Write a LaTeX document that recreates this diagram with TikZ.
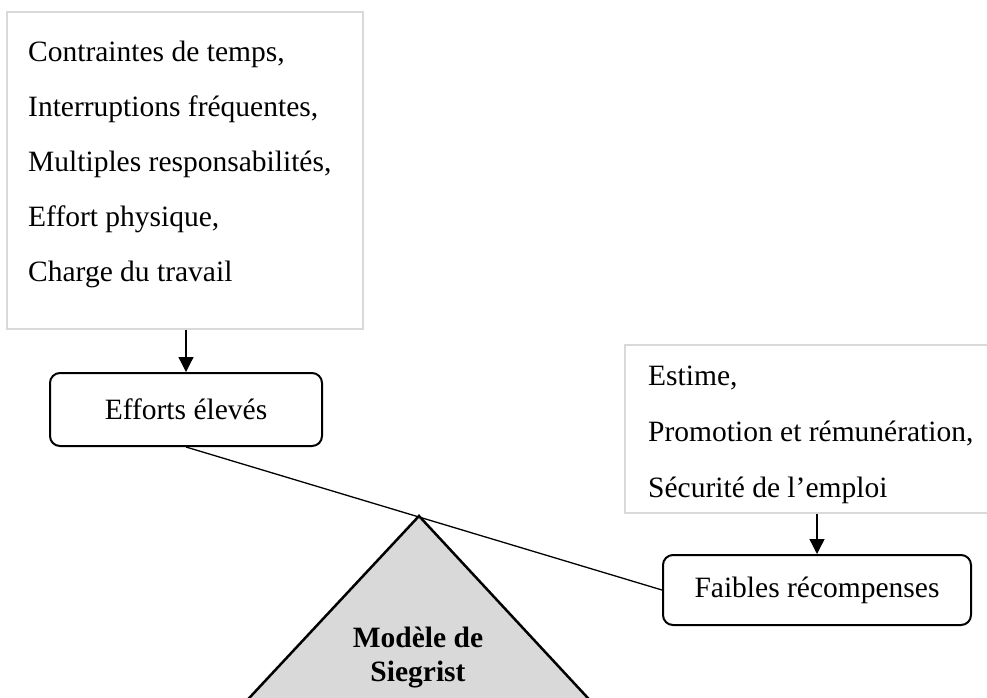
\documentclass[tikz,border=0pt]{standalone}
\usepackage{fontspec}
\setmainfont{Liberation Serif}
\usetikzlibrary{arrows.meta}
\definecolor{boxgray}{HTML}{D9D9D9}
\definecolor{trifill}{HTML}{D9D9D9}
\begin{document}
\begin{tikzpicture}[x=1pt,y=-1pt,
  graybox/.style={draw=boxgray,line width=2pt,inner sep=0pt,rectangle},
  roundbox/.style={draw=black,line width=2pt,rounded corners=10pt,inner sep=0pt,rectangle,font=\fontsize{29.5}{35}\selectfont},
  txt/.style={inner sep=0pt,anchor=base west,font=\fontsize{29.5}{35}\selectfont},
  conn/.style={draw=black,line width=1.3pt},
  arr/.style={conn,-{Triangle[width=15pt,length=15pt]}}]
\useasboundingbox (0,0) rectangle (987,697);
\clip (0,0) rectangle (987,697);
% triangle
\fill[trifill,draw=black,line width=2.5pt,line join=miter] (419,516) coordinate (apex) -- (238,710) -- (599,710) -- cycle;
\node[font=\bfseries\fontsize{29.5}{35}\selectfont,anchor=base] (m1) at (418,647) {Modèle de};
\node[font=\bfseries\fontsize{29.5}{35}\selectfont,anchor=base] (m2) at (418,681) {Siegrist};
% left gray box
\node[graybox,minimum width=356pt,minimum height=317pt] (b1) at (185,170.5) {};
\node[txt] (t1) at (28,61) {Contraintes de temps,};
\node[txt] (t2) at (28,116) {Interruptions fréquentes,};
\node[txt] (t3) at (28,171) {Multiples responsabilités,};
\node[txt] (t4) at (28,226) {Effort physique,};
\node[txt] (t5) at (28,281) {Charge du travail};
% right gray box
\node[graybox,minimum width=375pt,minimum height=168pt] (b2) at (812.5,429) {};
\node[txt] (s1) at (648,385) {Estime,};
\node[txt] (s2) at (648,441) {Promotion et rémunération,};
\node[txt] (s3) at (648,497) {Sécurité de l’emploi};
% rounded boxes
\node[roundbox,minimum width=272pt,minimum height=73pt] (eff) at (186,409.5) {Efforts élevés};
\node[roundbox,minimum width=308pt,minimum height=70pt] (fai) at (817,590) {Faibles récompenses};
% connectors
\draw[arr] (eff.north |- b1.south) -- (eff.north);
\draw[arr] (fai.north |- b2.south) -- (fai.north);
\draw[conn] (eff.south) -- (fai.west);
\end{tikzpicture}
\end{document}
